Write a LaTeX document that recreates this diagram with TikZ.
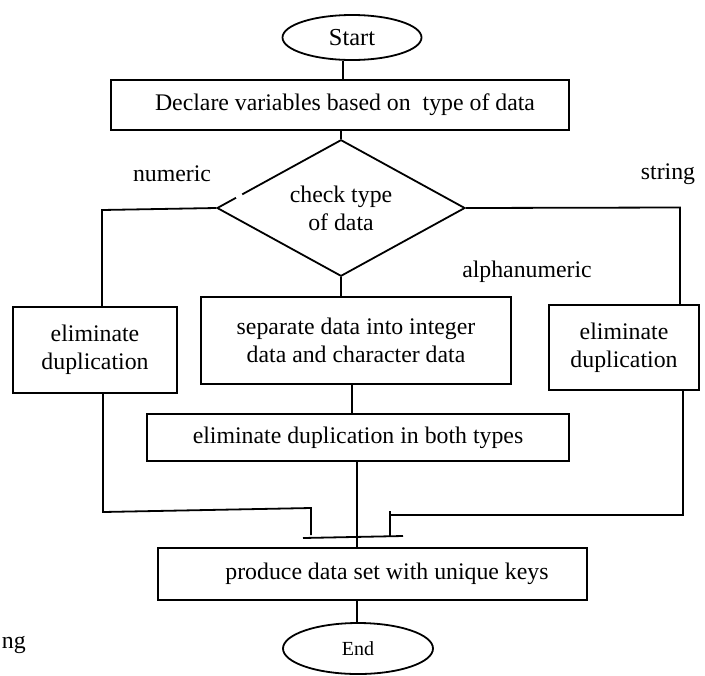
\documentclass[tikz,border=0pt]{standalone}
\usepackage{fontspec}
\setmainfont{Liberation Serif}
\usetikzlibrary{shapes.geometric}
\begin{document}
\begin{tikzpicture}[x=0.5pt,y=-0.5pt, line width=0.9pt,
  every node/.style={font=\fontsize{11.9}{14}\selectfont, inner sep=0pt},
  boxnode/.style={draw, rectangle, align=center},
  ovalnode/.style={draw, ellipse},
  lab/.style={align=center}]
\useasboundingbox (0,0) rectangle (705,675);

% nodes
\node[ovalnode, minimum width=69.5pt, minimum height=22.5pt, font=\fontsize{12.2}{14}\selectfont] (start) at (352,37.5) {Start};
\node[boxnode, minimum width=229pt, minimum height=25pt] (declare) at (340,105) {\hspace*{5pt}Declare variables based on\ \ type of data};
\node[draw, diamond, minimum width=124pt, minimum height=68.25pt] (dia) at (341,208) {};
\node[lab] (dlabel) at (341,208) {check type\\of data};
\node[lab] (numeric) at (172,174) {numeric};
\node[lab] (string) at (668,174) {string};
\node[lab] (alpha) at (527,272) {alphanumeric};
\node[boxnode, minimum width=82pt, minimum height=43pt] (lb) at (95,350) {eliminate\\duplication};
\node[boxnode, minimum width=155pt, minimum height=43.5pt] (mid) at (356,340.5) {separate data into integer\\data and character data};
\node[boxnode, minimum width=75pt, minimum height=42.5pt] (rb) at (624,347.5) {eliminate\\duplication};
\node[boxnode, minimum width=211pt, minimum height=23.5pt] (both) at (358,437.5) {eliminate duplication in both types};
\node[boxnode, minimum width=214.5pt, minimum height=26pt] (prod) at (372.5,574) {\hspace*{14.5pt}produce data set with unique keys};
\node[ovalnode, minimum width=75pt, minimum height=25.5pt, font=\fontsize{10}{12}\selectfont] (endn) at (358,648.5) {End};
\node[lab, anchor=west] (ng) at (1,645) {ng};

% bend points
\coordinate (sx) at (343,0);
\coordinate (ln) at (102,210);
\coordinate (rn) at (680,207.5);
\coordinate (mx) at (352,0);
\coordinate (cx) at (357,0);
\coordinate (l1) at (103,512);
\coordinate (l2) at (311,508);
\coordinate (l3) at (311,535);
\coordinate (b1) at (303,538);
\coordinate (b2) at (403,536);
\coordinate (r1) at (683,515);
\coordinate (r2) at (390,515);
\coordinate (r0) at (390,511);
\coordinate (r3) at (390,536);
\coordinate (g1) at (236,197.5);
\coordinate (g2) at (242,194.2);

% connectors
\draw (start.south -| sx) -- (declare.north -| sx);
\draw (declare.south -| dia.north) -- (dia.north);
\draw (dia.west) -- (ln) -- (ln |- lb.north);
\draw (dia.east) -- (rn) -- (rn |- rb.north);
\draw (dia.south) -- (dia.south |- mid.north);
\draw (mid.south -| mx) -- (both.north -| mx);
\draw (both.south -| cx) -- (prod.north -| cx);
\draw (prod.south -| cx) -- (endn.north -| cx);
\draw (lb.south -| l1) -- (l1) -- (l2) -- (l3);
\draw (b1) -- (b2);
\draw (rb.south -| r1) -- (r1) -- (r2);
\draw (r0) -- (r3);
\draw[white, line width=2pt] (g1) -- (g2);
\end{tikzpicture}
\end{document}
